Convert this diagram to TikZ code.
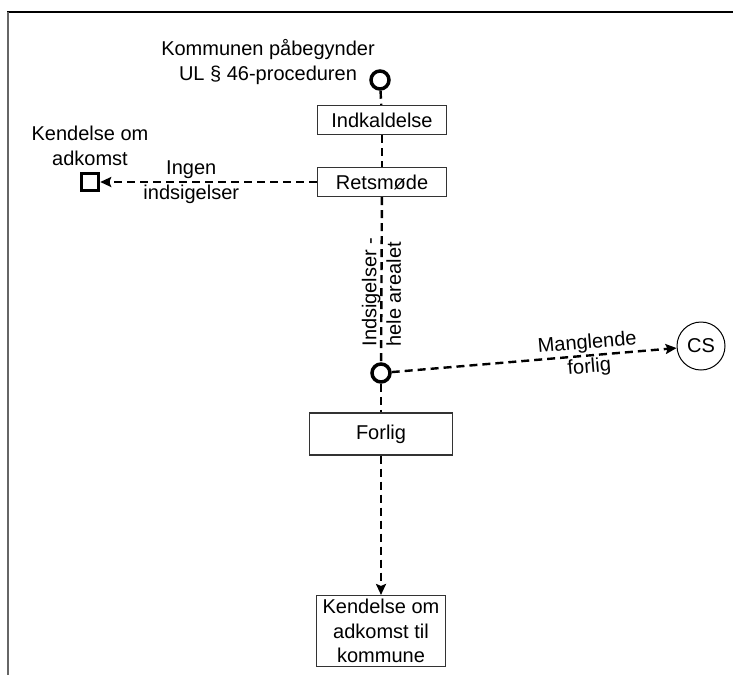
\documentclass[tikz,border=0pt]{standalone}
\usepackage{fontspec}
\setmainfont{Liberation Sans}
\usetikzlibrary{arrows.meta}
\begin{document}
\begin{tikzpicture}[x=1pt,y=-1pt,
  font=\fontsize{20}{24.5}\selectfont,
  flow/.style={line width=2.4pt, dash pattern=on 8pt off 5pt},
  arrowflow/.style={flow, -{Stealth[length=11pt,width=10pt,inset=2pt]}},
  box/.style={draw=black!80, line width=1.1pt, minimum width=129pt, minimum height=29pt, inner sep=0pt, align=center},
  junction/.style={circle, draw, line width=3.5pt, minimum size=18pt, inner sep=0pt},
  endsq/.style={draw, line width=3.5pt, minimum size=17pt, inner sep=0pt},
  lbl/.style={align=center, inner sep=0pt}]
\useasboundingbox (0,0) rectangle (733,675);
% page frame
\draw[line width=1.5pt] (7,12) -- (733,12);
\draw[line width=2pt, black!60] (8,12) -- (8,675);

% nodes
\node[junction] (start) at (380,80) {};
\node[lbl] (startlbl) at (268,62) {Kommunen påbegynder\\UL § 46-proceduren};
\node[box] (ind) at (382,120) {Indkaldelse};
\node[box] (ret) at (382,182) {Retsmøde};
\node[endsq] (sq) at (90,182) {};
\node[lbl] (sqlbl) at (90,146) {Kendelse om\\adkomst};
\node[junction] (mid) at (381,373) {};
\node[circle, draw, line width=1pt, minimum size=48pt, inner sep=0pt] (cs) at (701,346) {CS};
\node[box, minimum width=143pt, minimum height=42pt] (forlig) at (381,434) {Forlig};
\node[box, minimum height=71pt] (kend) at (381,631) {Kendelse om\\adkomst til\\kommune};

% connectors
\draw[flow] (start) -- (ind);
\draw[flow] (ind) -- (ret);
\draw[arrowflow] (ret) -- (sq) node[lbl, pos=0.58] {Ingen\\indsigelser};
\draw[flow] (ret) -- (mid) node[lbl, pos=0.575, rotate=90, align=left] {Indsigelser -\\hele arealet};
\draw[arrowflow] (mid) -- (cs) node[lbl, sloped, pos=0.69] {Manglende\\forlig};
\draw[flow] (mid) -- (forlig);
\draw[arrowflow] (forlig) -- (kend);
\end{tikzpicture}
\end{document}
